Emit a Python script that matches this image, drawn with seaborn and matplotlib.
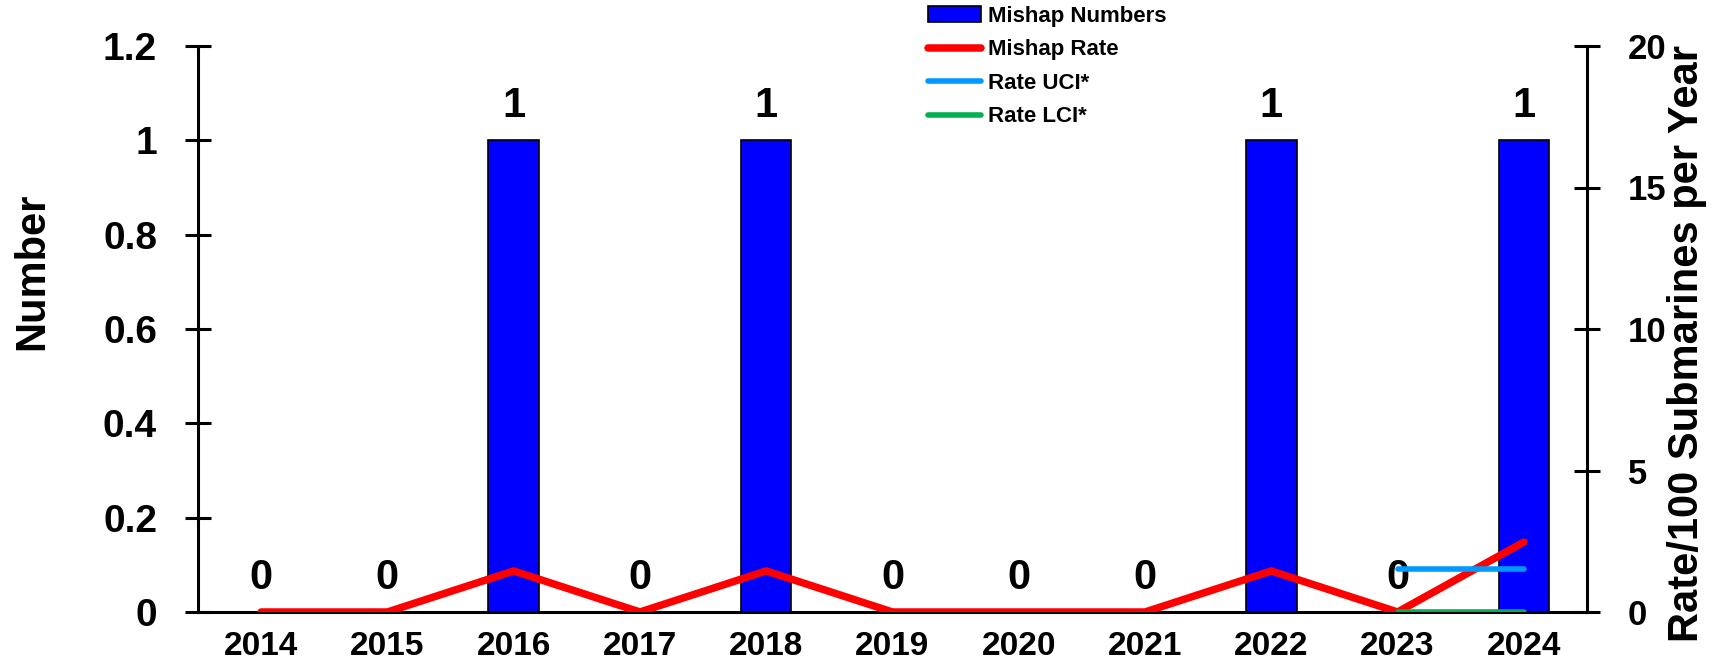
import matplotlib
matplotlib.use("Agg")
import matplotlib.pyplot as plt
from matplotlib.patches import Patch
from matplotlib.lines import Line2D
import numpy as np
import pandas as pd
import seaborn as sns

# values
years = ["2014", "2015", "2016", "2017", "2018", "2019", "2020", "2021", "2022", "2023", "2024"]
mishap_numbers = [0, 0, 1, 0, 1, 0, 0, 0, 1, 0, 1]
mishap_rate = [0, 0, 1.45, 0, 1.45, 0, 0, 0, 1.45, 0, 2.47]
rate_uci = [np.nan] * 9 + [1.52, 1.52]
rate_lci = [np.nan] * 9 + [0, 0]

sns.set_style("white")
plt.rcParams["font.family"] = ["Liberation Sans", "DejaVu Sans"]
plt.rcParams["font.weight"] = "bold"
for key in ("text.color", "axes.labelcolor", "xtick.color", "ytick.color"):
    plt.rcParams[key] = "black"

df = pd.DataFrame({"year": years, "number": mishap_numbers})
idx = np.arange(len(years))

W, H = 1725, 669
fig = plt.figure(figsize=(W / 100, H / 100), dpi=100)
ax = fig.add_axes([198 / W, 57 / H, 1389 / W, 566 / H])

sns.barplot(data=df, x="year", y="number", ax=ax, color="#0000FF", saturation=1,
            width=0.4, edgecolor="black", linewidth=1.2)
ax.bar_label(ax.containers[0], labels=[str(v) for v in mishap_numbers],
             padding=10, fontsize=30, fontweight="bold", color="black")

ax2 = ax.twinx()
sns.lineplot(x=idx, y=mishap_rate, ax=ax2, color="#FF0000", linewidth=5.4,
             solid_capstyle="round")
sns.lineplot(x=idx, y=rate_uci, ax=ax2, color="#0099FF", linewidth=4,
             solid_capstyle="round")
sns.lineplot(x=idx, y=rate_lci, ax=ax2, color="#00B050", linewidth=4,
             solid_capstyle="round")

ax.set_xlim(-0.5, len(years) - 0.5)
ax.set_ylim(0, 1.2)
ax2.set_ylim(0, 20)
ax.set_yticks([0, 0.2, 0.4, 0.6, 0.8, 1, 1.2])
ax.set_yticklabels(["0", "0.2", "0.4", "0.6", "0.8", "1", "1.2"])
ax2.set_yticks([0, 5, 10, 15, 20])

# year labels at centres, tick marks at the category boundaries
ax.set_xticks(np.arange(-0.5, len(years)), minor=False)
ax.set_xticklabels([])
ax.set_xticks(idx, minor=True)
ax.set_xticklabels(years, minor=True)
ax.tick_params(axis="x", which="major", direction="inout", length=22, width=2.2, color="black")
ax.tick_params(axis="x", which="minor", length=0, pad=14, labelsize=24)
ax.tick_params(axis="y", direction="inout", length=19, width=2.2, pad=20, labelsize=28)
ax2.tick_params(axis="y", direction="inout", length=19, width=2.2, pad=20, labelsize=25)

for a in (ax, ax2):
    a.spines["top"].set_visible(False)
    for s in ("left", "right", "bottom"):
        a.spines[s].set_color("black")
        a.spines[s].set_linewidth(2.2)
ax.spines["right"].set_visible(False)
ax2.spines["left"].set_visible(False)
ax2.spines["bottom"].set_visible(False)

ax.set_xlabel("")
ax.set_ylabel("Number", fontsize=30, fontweight="bold")
ax.yaxis.set_label_coords(-0.105, 0.602)
ax2.set_ylabel("Rate/100 Submarines per Year", fontsize=30, fontweight="bold")
ax2.yaxis.set_label_coords(1.0576, 0.475)

handles = [
    Patch(facecolor="#0000FF", edgecolor="black", linewidth=1.2),
    Line2D([], [], color="#FF0000", linewidth=5.4, solid_capstyle="round"),
    Line2D([], [], color="#0099FF", linewidth=4, solid_capstyle="round"),
    Line2D([], [], color="#00B050", linewidth=4, solid_capstyle="round"),
]
labels = ["Mishap Numbers", "Mishap Rate", "Rate UCI*", "Rate LCI*"]
fig.legend(handles, labels, loc="upper left", bbox_to_anchor=(928 / W, 1 - 6 / H),
           frameon=False, fontsize=16, borderpad=0, borderaxespad=0,
           handlelength=2.4, handletextpad=0.3, labelspacing=0.56)

fig.savefig("out.png", dpi=100)
